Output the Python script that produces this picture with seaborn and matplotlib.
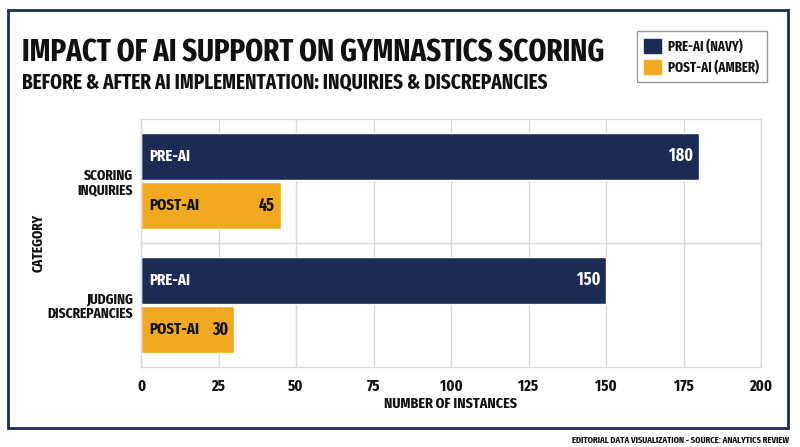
import matplotlib
matplotlib.use("Agg")
import matplotlib.pyplot as plt
import seaborn as sns
import pandas as pd
from matplotlib import font_manager as fm
from matplotlib.patches import Rectangle, Patch
from matplotlib.textpath import TextPath

categories = ["SCORING\nINQUIRIES", "JUDGING\nDISCREPANCIES"]
periods = ["PRE-AI", "POST-AI"]
pre_ai = [180, 150]
post_ai = [45, 30]
legend_labels = ["PRE-AI (NAVY)", "POST-AI (AMBER)"]
x_ticks = [0, 25, 50, 75, 100, 125, 150, 175, 200]

NAVY = "#1b2b55"
AMBER = "#f2a922"
GRID = "#d9d9d9"
TEXT = "#111111"

sns.set_theme(style="white")
plt.rcParams["font.family"] = ["DejaVu Sans"]

# pick the narrowest bold face that is installed
font_path = None
prefs = ["ExtraCondensed-Bold", "ExtraCondensedBold", "Narrow-Bold", "NarrowBold",
         "Condensed-Bold", "CondensedBold", "SemiCondensed-Bold"]
files = [f.fname for f in fm.fontManager.ttflist]
for p in prefs:
    hits = [f for f in files if p.lower() in f.lower().replace(" ", "")]
    hits = [f for f in hits if "italic" not in f.lower() and "oblique" not in f.lower()]
    if hits:
        font_path = sorted(hits)[0]
        break


def fp(size):
    if font_path:
        return fm.FontProperties(fname=font_path, size=size)
    return fm.FontProperties(family="DejaVu Sans", weight="bold", size=size)


fig = plt.figure(figsize=(8, 4.47), dpi=100)
renderer = fig.canvas.get_renderer()
PX = 100 / 72.0


def fit_w(s, target, base=20.0):
    t = fig.text(0, 0, s, fontproperties=fp(base))
    w = t.get_window_extent(renderer).width
    t.remove()
    return base * target / w


def fit_h(cap_px, base=20.0):
    h = TextPath((0, 0), "H", prop=fp(base)).get_extents().height * PX
    return base * cap_px / h


def fit_mix(s, target_w, cap_px):
    return (fit_w(s, target_w) * fit_h(cap_px)) ** 0.5


S_TITLE = fit_w("IMPACT OF AI SUPPORT ON GYMNASTICS SCORING", 583)
S_SUB = fit_w("BEFORE & AFTER AI IMPLEMENTATION: INQUIRIES & DISCREPANCIES", 523)
S_BAR = fit_mix("PRE-AI", 38, 12)
S_VAL = fit_mix("180", 22, 13)
S_YT = fit_mix("DISCREPANCIES", 79, 11)
S_XT = fit_h(11)
S_XL = fit_mix("NUMBER OF INSTANCES", 116, 12)
S_YL = fit_mix("CATEGORY", 53, 11)
S_LEG = fit_mix("PRE-AI (NAVY)", 72, 10)
S_FOOT = fit_w("EDITORIAL DATA VISUALIZATION - SOURCE: ANALYTICS REVIEW", 219)

df = pd.DataFrame({
    "Category": categories * 2,
    "Period": [periods[0]] * 2 + [periods[1]] * 2,
    "Value": pre_ai + post_ai,
})

ax = fig.add_axes([141 / 800, 1 - 367 / 447, 620 / 800, 248 / 447])

sns.barplot(data=df, y="Category", x="Value", hue="Period", orient="h",
            palette=[NAVY, AMBER], width=0.8, gap=0.06, legend=False,
            saturation=1, ax=ax)

ax.set_xlim(0, 200)
ax.set_ylim(len(categories) - 0.5, -0.5)
ax.set_xticks(x_ticks)
ax.set_xticklabels([str(t) for t in x_ticks])
ax.set_yticks(range(len(categories)))
ax.set_yticklabels(categories)
for lab in ax.get_xticklabels():
    lab.set_fontproperties(fp(S_XT))
    lab.set_color(TEXT)
for lab in ax.get_yticklabels():
    lab.set_fontproperties(fp(S_YT))
    lab.set_color(TEXT)
    lab.set_linespacing(1.0)
ax.tick_params(axis="x", length=0, pad=8)
ax.tick_params(axis="y", length=0, pad=6)
ax.xaxis.grid(True, color=GRID, linewidth=1)
ax.set_axisbelow(True)
for i in range(len(categories) - 1):
    ax.axhline(i + 0.5, color=GRID, linewidth=1, zorder=0)
for s in ax.spines.values():
    s.set_color(GRID)
    s.set_linewidth(1)

ax.set_xlabel("NUMBER OF INSTANCES", fontproperties=fp(S_XL), color=TEXT)
ax.xaxis.set_label_coords(0.5, (367 - 404) / 248)
ax.xaxis.label.set_va("center")
ax.set_ylabel("CATEGORY", fontproperties=fp(S_YL), color=TEXT)
ax.yaxis.set_label_coords((39 - 141) / 620, 0.5)
ax.yaxis.label.set_va("center")

text_colors = ["white", TEXT]
for ci, cont in enumerate(ax.containers):
    for bar in cont:
        yc = bar.get_y() + bar.get_height() / 2
        w = bar.get_width()
        ax.text(2.6, yc, periods[ci], ha="left", va="center",
                fontproperties=fp(S_BAR), color=text_colors[ci])
        ax.text(w - 1.9, yc, f"{int(w)}", ha="right", va="center",
                fontproperties=fp(S_VAL), color=text_colors[ci])

# Title / subtitle
fig.text(22 / 800, 1 - 62 / 447, "IMPACT OF AI SUPPORT ON GYMNASTICS SCORING",
         fontproperties=fp(S_TITLE), color=TEXT, ha="left", va="baseline")
fig.text(22 / 800, 1 - 88 / 447, "BEFORE & AFTER AI IMPLEMENTATION: INQUIRIES & DISCREPANCIES",
         fontproperties=fp(S_SUB), color=TEXT, ha="left", va="baseline")

# Legend
fs_px = S_LEG * PX
handles = [Patch(facecolor=NAVY, edgecolor=NAVY), Patch(facecolor=AMBER, edgecolor=AMBER)]
leg = fig.legend(handles, legend_labels, loc="upper right",
                 bbox_to_anchor=(767 / 800, 1 - 31 / 447), frameon=True,
                 fancybox=False, edgecolor="#999999", framealpha=1,
                 prop=fp(S_LEG), handlelength=17 / fs_px, handleheight=16 / fs_px,
                 handletextpad=7 / fs_px, borderpad=0.55, labelspacing=6 / fs_px,
                 borderaxespad=0)
leg.get_frame().set_linewidth(1)
for t in leg.get_texts():
    t.set_color(TEXT)

# Outer frame
fig.patches.append(Rectangle((8 / 800, 1 - 428 / 447), 780 / 800, 418 / 447,
                             transform=fig.transFigure, fill=False,
                             edgecolor=NAVY, linewidth=2))

fig.text(789 / 800, 1 - 443 / 447, "EDITORIAL DATA VISUALIZATION - SOURCE: ANALYTICS REVIEW",
         fontproperties=fp(S_FOOT), color=TEXT, ha="right", va="baseline")

fig.savefig("out.png", dpi=100, facecolor="white")
